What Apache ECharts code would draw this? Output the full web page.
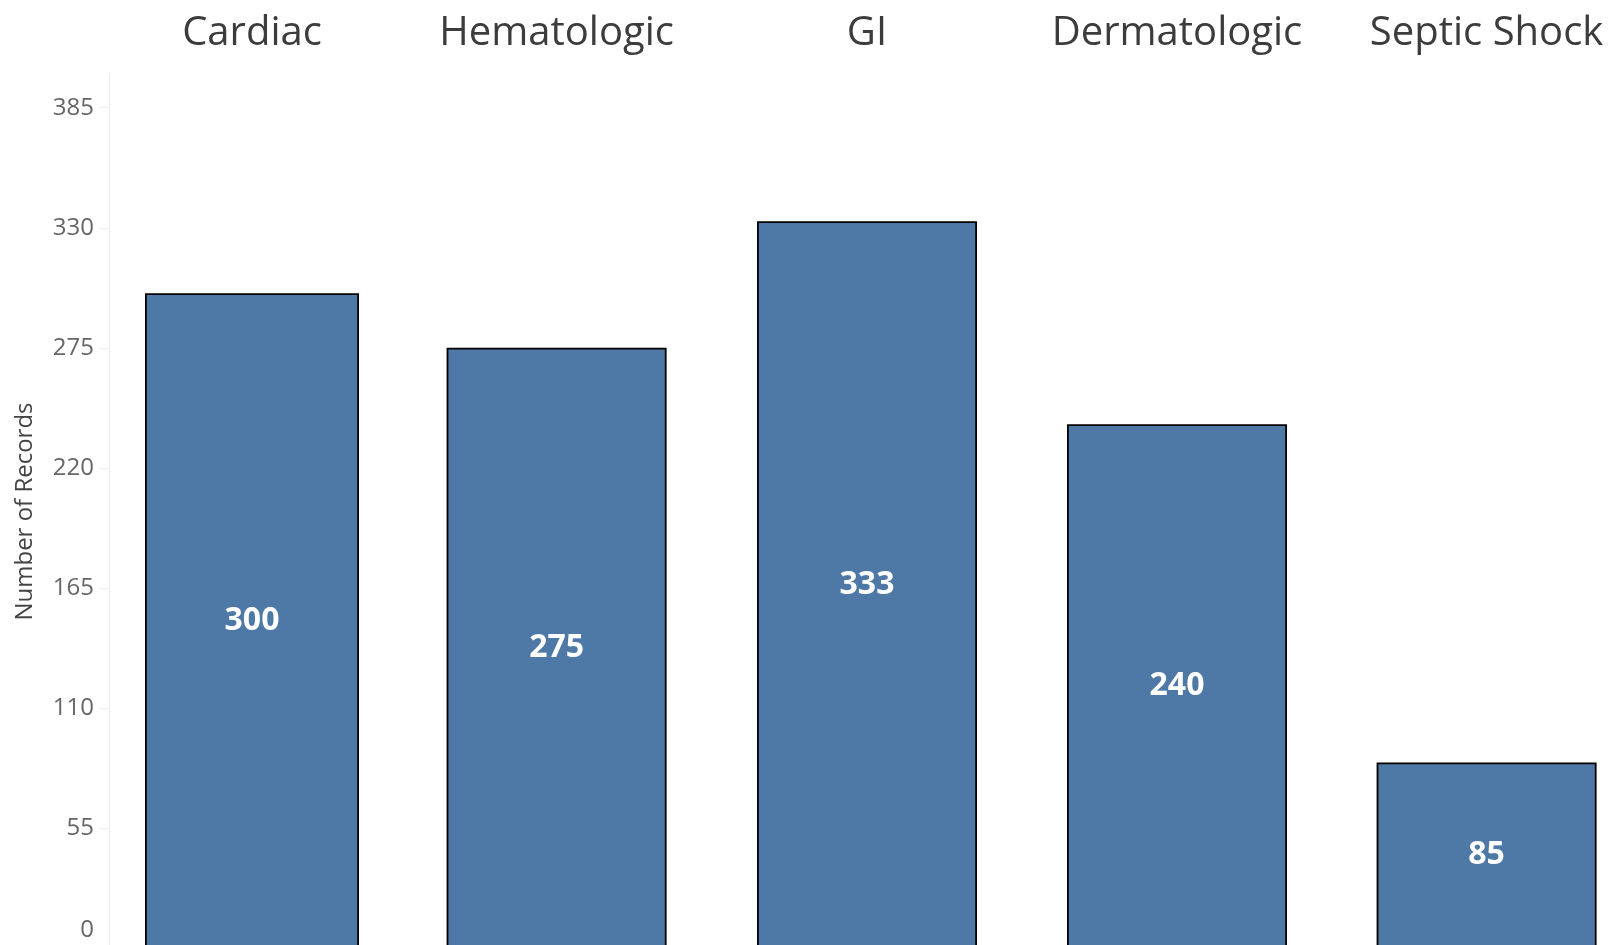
<!DOCTYPE html>
<html>
<head>
<meta charset="utf-8">
<script src="https://cdn.jsdelivr.net/npm/echarts@6/dist/echarts.min.js"></script>
<style>
html,body{margin:0;padding:0;overflow:hidden;background:#fff;}
#chart{width:1613px;height:948px;}
</style>
</head>
<body>
<div id="chart"></div>
<script>
const categories = ['Cardiac', 'Hematologic', 'GI', 'Dermatologic', 'Septic Shock'];
const records = [300, 275, 333, 240, 85];
const yTicks = [0, 55, 110, 165, 220, 275, 330, 385];
const yAxisTitle = 'Number of Records';

const FONT = '"Open Sans", "Noto Sans", sans-serif';
const Y_MAX = 400;
// facet panel placement (px): left, width
const panels = [[145, 214], [446.6, 220], [757, 220], [1067, 220], [1376.6, 220]];

const grids = [], xAxes = [], yAxes = [], series = [];
panels.forEach((p, i) => {
  grids.push({left: p[0], width: p[1], top: 75, bottom: 0, containLabel: false});
  xAxes.push({
    type: 'category', gridIndex: i, position: 'top', data: [categories[i]],
    axisLine: {show: false}, axisTick: {show: false},
    axisLabel: {fontFamily: FONT, fontSize: 40, color: '#3c3c3c', margin: 41, verticalAlign: 'middle'}
  });
  yAxes.push({
    type: 'value', gridIndex: i, min: 0, max: Y_MAX, interval: 55,
    show: i === 0, offset: 36,
    name: i === 0 ? yAxisTitle : '', nameLocation: 'middle', nameGap: 72,
    nameTextStyle: {fontFamily: FONT, fontSize: 24, color: '#444'},
    axisLine: {show: true, lineStyle: {color: '#eeeeee', width: 1}},
    axisTick: {show: true, length: 10, lineStyle: {color: '#eeeeee'}, customValues: yTicks.slice(1)},
    axisLabel: {fontFamily: FONT, fontSize: 24, color: '#666', margin: 15, customValues: yTicks.slice(1)},
    splitLine: {show: false}
  });
  series.push({
    type: 'bar', xAxisIndex: i, yAxisIndex: i, data: [records[i]],
    barWidth: '100%',
    itemStyle: {color: '#4e79a7', borderColor: '#000', borderWidth: 1.8},
    label: {show: true, position: 'inside', fontFamily: FONT, fontSize: 32, fontWeight: 'bold', color: '#fff'},
    silent: true
  });
});
// extra axis only carrying the "0" label, lifted to stay inside the picture
yAxes.push({
  type: 'value', gridIndex: 0, min: 0, max: Y_MAX, interval: 55, offset: 36, position: 'left',
  axisLine: {show: false}, axisTick: {show: false}, splitLine: {show: false},
  axisLabel: {fontFamily: FONT, fontSize: 24, color: '#666', margin: 15, customValues: [yTicks[0]],
    verticalAlign: 'bottom', padding: [0, 0, 6, 0]}
});

const chart = echarts.init(document.getElementById('chart'), null, {renderer: 'canvas'});
chart.setOption({
  animation: false,
  backgroundColor: '#fff',
  grid: grids, xAxis: xAxes, yAxis: yAxes, series: series
});
</script>
</body>
</html>
